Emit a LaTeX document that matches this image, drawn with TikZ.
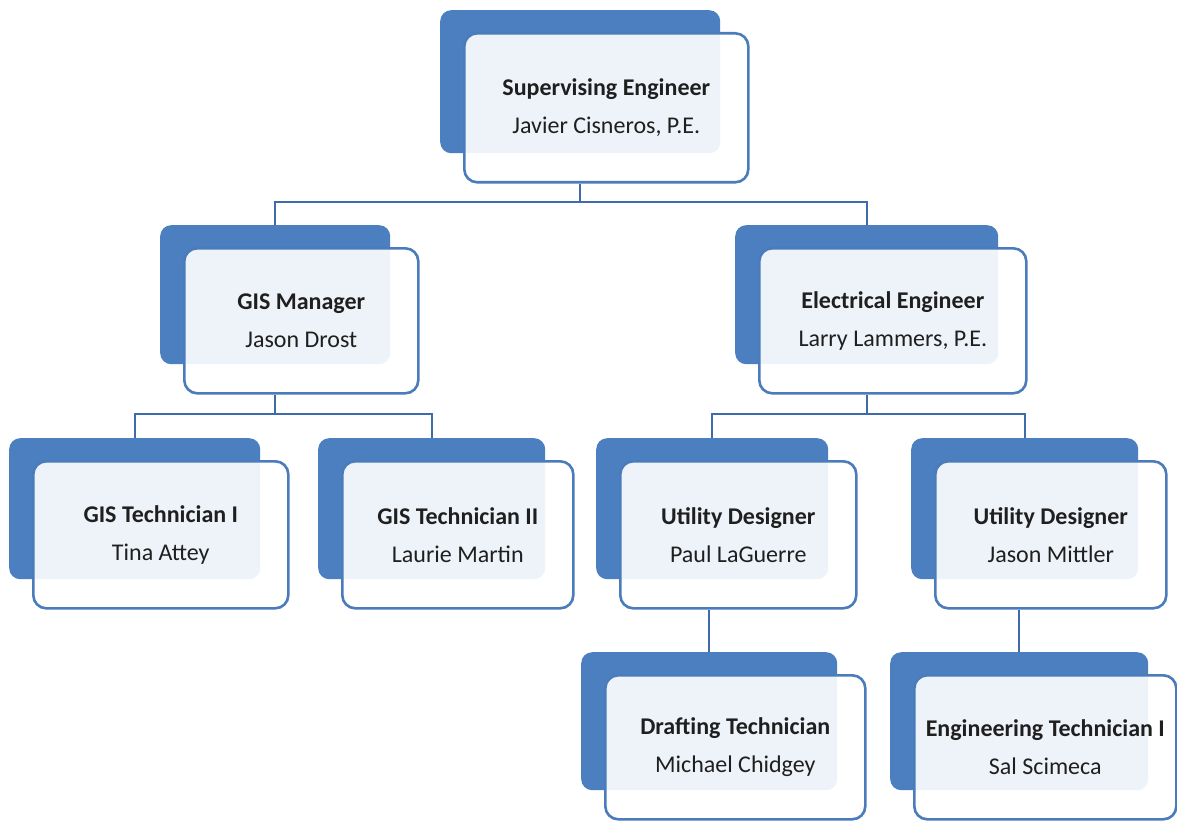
\documentclass[tikz,border=0pt]{standalone}
\usepackage{fontspec}
\setmainfont{Carlito}
\begin{document}
\begin{tikzpicture}[x=1pt,y=-1pt,
  backbox/.style={fill=bkblue, rounded corners=11pt, inner sep=0pt},
  frontbox/.style={fill=white, fill opacity=0.91, text opacity=1, draw=frblue, line width=2.6pt,
     rounded corners=13pt, inner sep=0pt, align=center, font=\fontsize{24}{38}\selectfont, text=black!88},
  conn/.style={draw=lnblue, line width=2.4pt}]
\definecolor{bkblue}{HTML}{4C7FBF}
\definecolor{frblue}{HTML}{4A7CBC}
\definecolor{lnblue}{HTML}{3F6BAD}
\fill[white] (0,0) rectangle (1177,821);
\useasboundingbox (0,0) rectangle (1177,821);
\newcommand{\orgbox}[7]{%
  \pgfmathsetmacro{\bw}{#4-#2-4}\pgfmathsetmacro{\bh}{#5-#3-6}%
  \pgfmathsetmacro{\fw}{#4-#2}\pgfmathsetmacro{\fh}{#5-#3}%
  \node[backbox, minimum width=\bw pt, minimum height=\bh pt, anchor=north west] (#1b) at (#2-23,#3-22) {};
  \node[frontbox, minimum width=\fw pt, minimum height=\fh pt, anchor=north west] (#1) at (#2,#3) {\textbf{#6}\\#7};
}
% bar levels
\coordinate (y1) at (0,202);
\coordinate (y2) at (0,414);
\orgbox{t}{463}{32}{747}{181}{Supervising Engineer}{Javier Cisneros, P.E.}
\orgbox{gm}{183}{247}{417}{392}{GIS Manager}{Jason Drost}
\orgbox{ee}{758}{247}{1025}{392}{Electrical Engineer}{Larry Lammers, P.E.}
\orgbox{g1}{32}{460}{287}{607}{GIS Technician I}{Tina Attey}
\orgbox{g2}{341}{460}{572}{607}{GIS Technician II}{Laurie Martin}
\orgbox{u1}{619}{460}{855}{607}{Utility Designer}{Paul LaGuerre}
\orgbox{u2}{934}{460}{1165}{607}{Utility Designer}{Jason Mittler}
\orgbox{dt}{604}{674}{864}{818}{Drafting Technician}{Michael Chidgey}
\orgbox{et}{913}{674}{1175}{818}{Engineering Technician I}{Sal Scimeca}
\draw[conn] (tb.center |- t.south) -- (tb.center |- y1) -| (gmb.north);
\draw[conn] (tb.center |- y1) -| (eeb.north);
\draw[conn] (gmb.center |- gm.south) -- (gmb.center |- y2) -| (g1b.north);
\draw[conn] (gmb.center |- y2) -| (g2b.north);
\draw[conn] (eeb.center |- ee.south) -- (eeb.center |- y2) -| (u1b.north);
\draw[conn] (eeb.center |- y2) -| (u2b.north);
\draw[conn] (dtb.north |- u1.south) -- (dtb.north);
\draw[conn] (etb.north |- u2.south) -- (etb.north);
\end{tikzpicture}
\end{document}
